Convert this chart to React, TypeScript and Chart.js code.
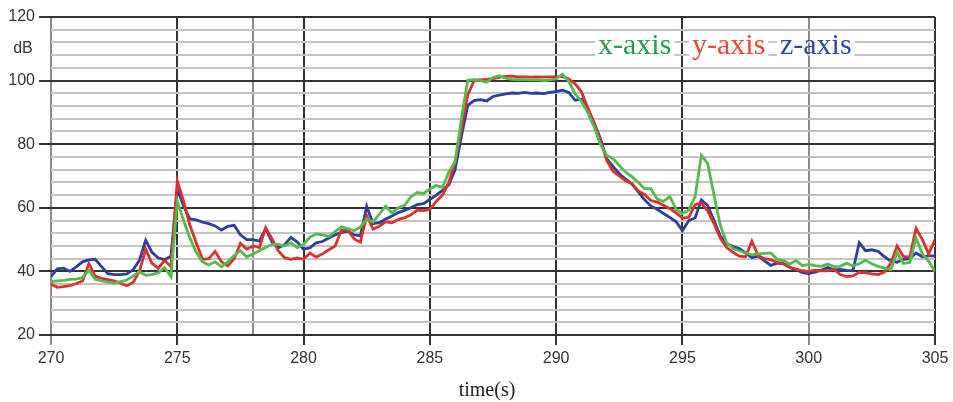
import { useEffect, useRef } from "react";
import { Chart, registerables } from "chart.js";

Chart.register(...registerables);

// Sampling grid of the recordings (seconds)
const START_S = 270;
const STEP_S = 0.25;

// Vibration level per axis, dB, one row per second (4 samples each)
const xAxisDb = [
  36.8, 37.0, 37.2, 37.5,
  37.6, 38.0, 40.4, 37.5,
  37.0, 36.6, 36.3, 36.8,
  37.3, 38.5, 39.9, 38.8,
  39.0, 39.6, 41.2, 38.3,
  62.0, 56.0, 50.5, 46.0,
  43.0, 42.0, 43.0, 41.5,
  43.0, 45.0, 46.5, 44.5,
  45.5, 46.5, 47.5, 48.5,
  48.5, 48.0, 49.0, 47.5,
  48.5, 50.8, 51.8, 51.5,
  51.0, 52.5, 54.0, 53.5,
  52.8, 54.0, 56.5, 55.5,
  58.0, 60.5, 58.4, 60.0,
  60.8, 63.5, 64.8, 64.5,
  65.9, 67.0, 66.4, 71.2,
  74.5, 88.0, 100.1, 100.3,
  100.0, 99.5, 101.0, 101.5,
  100.8, 100.4, 100.3, 100.3,
  100.2, 100.3, 100.0, 100.2,
  100.5, 102.0, 99.8, 95.8,
  93.5, 90.0, 85.5, 80.0,
  76.5, 75.5, 73.3, 71.2,
  69.8, 68.0, 66.0, 66.0,
  62.8, 62.0, 63.5, 59.5,
  58.2, 59.2, 63.5, 76.5,
  74.0, 64.0, 54.5, 49.0,
  47.2, 46.5, 45.8, 45.2,
  45.5, 45.7, 45.8, 43.8,
  43.4, 42.3, 43.4, 41.8,
  42.2, 41.8, 41.6, 42.3,
  41.5, 41.6, 42.6, 41.8,
  42.4, 43.5, 42.4, 41.6,
  41.0, 40.5, 46.0, 42.5,
  42.8, 50.5, 45.5, 43.2,
  40.0,
];

const yAxisDb = [
  36.0, 35.0, 35.2, 35.5,
  36.2, 37.0, 42.5, 38.5,
  37.8, 37.4, 37.0, 36.3,
  35.5, 36.5, 40.0, 47.0,
  42.5, 41.0, 43.5, 41.5,
  68.5, 62.0, 54.5, 49.0,
  43.8, 44.0, 46.3, 43.0,
  41.7, 44.0, 48.8, 47.0,
  48.0, 47.5, 53.7, 50.3,
  46.4, 44.3, 43.8, 44.2,
  43.8, 45.8, 44.5, 45.5,
  46.8, 48.0, 53.0, 53.0,
  50.2, 49.2, 57.5, 53.3,
  54.2, 55.6, 55.3, 56.3,
  56.9, 57.8, 59.3, 59.1,
  59.5, 62.0, 64.0, 68.0,
  74.5, 85.0, 95.5, 100.0,
  100.3, 100.4, 100.6, 101.0,
  101.3, 101.4, 101.2, 101.2,
  101.1, 101.2, 101.1, 101.2,
  101.2, 101.3, 100.5, 99.0,
  96.5, 91.5, 86.5, 81.3,
  75.0, 71.5, 70.0, 68.5,
  67.6, 65.3, 64.2, 62.3,
  61.8, 60.8, 59.8, 58.4,
  56.8, 57.0, 61.0, 61.5,
  59.0, 55.0, 50.5, 47.5,
  46.0, 44.8, 44.6, 49.5,
  45.0, 44.0, 43.7, 42.8,
  42.5, 41.3, 40.7, 40.2,
  40.0, 40.4, 40.2, 40.2,
  40.6, 39.0, 38.4, 38.6,
  39.7, 39.6, 39.2, 39.0,
  39.8, 42.5, 48.0, 44.7,
  44.5, 53.5, 50.0, 45.5,
  50.0,
];

const zAxisDb = [
  38.4, 40.8, 41.0, 40.0,
  41.4, 43.0, 43.6, 43.8,
  41.5, 39.3, 39.0, 39.0,
  39.2, 40.5, 43.5, 49.8,
  46.0, 44.2, 43.7, 44.8,
  66.0, 60.5, 56.5, 56.2,
  55.5, 55.0, 54.3, 53.0,
  54.2, 54.5, 51.5, 50.0,
  50.0, 49.5, 53.5, 49.3,
  47.4, 48.4, 50.7, 49.2,
  47.0, 47.4, 49.0, 49.4,
  50.5, 51.5, 52.3, 52.7,
  51.5, 51.2, 60.5, 55.0,
  55.3, 56.5, 57.4, 58.5,
  59.2, 60.0, 61.0, 61.3,
  62.6, 64.0, 65.5, 67.2,
  72.0, 82.5, 92.2, 93.7,
  94.0, 93.6, 95.0, 95.4,
  95.8, 96.1, 96.0, 96.3,
  96.0, 96.1, 95.9, 96.3,
  96.5, 97.0, 96.3, 93.8,
  94.2, 91.3, 86.8, 81.8,
  75.5, 73.0, 70.7, 69.0,
  67.5, 65.0, 62.5, 60.6,
  59.5, 58.2, 57.0, 55.6,
  52.8, 56.0, 56.8, 62.5,
  60.7, 56.0, 51.2, 48.8,
  47.8, 47.2, 45.8, 44.3,
  44.8, 43.3, 41.9, 42.6,
  42.4, 41.2, 40.5, 39.6,
  39.3, 39.8, 40.4, 41.2,
  40.5, 40.6, 40.3, 40.2,
  49.0, 46.5, 46.8, 46.3,
  44.6, 43.3, 42.9, 43.8,
  44.0, 45.8, 44.6, 44.9,
  44.9,
];

const seriesNames = ["x-axis", "y-axis", "z-axis"];
const seriesValues = [xAxisDb, yAxisDb, zAxisDb];
const lineColors = ["#52bc4c", "#e0302c", "#2a3f9e"];
const labelColors = ["#1f9e55", "#ec4a2e", "#2c4aa6"];

// Time axis
const X_MIN = 270;
const X_MAX = 305;
const xTickValues = [270, 275, 278, 280, 285, 290, 295, 300, 305];
const lightXLines = [270, 278, 300];
const unlabeledX = [278];
const X_TITLE = "time(s)";

// Level axis
const Y_MIN = 20;
const Y_MAX = 120;
const Y_STEP = 4;
const Y_MAJOR = 20;
const Y_UNIT = "dB";
const Y_UNIT_LEVEL = 110;

const SANS = "'Liberation Sans', Arial, sans-serif";
const SERIF = "'Liberation Serif', 'Times New Roman', serif";

const legendLeft = [598, 692, 780];
const LEGEND_BASELINE = 54;

const textPlugin = {
  id: "chartTexts",
  beforeDatasetsDraw(chart: any) {
    const ctx = chart.ctx as CanvasRenderingContext2D;
    const xs = chart.scales.x;
    ctx.save();
    ctx.font = `30px ${SERIF}`;
    ctx.fillStyle = "#ffffff";
    // white patches under the legend words, leaving vertical grid lines visible
    seriesNames.forEach((name, i) => {
      const w = ctx.measureText(name).width;
      let x0 = legendLeft[i] - 3;
      const x1 = legendLeft[i] + w + 3;
      xTickValues.forEach((v) => {
        const px = xs.getPixelForValue(v);
        if (px > x0 && px < x1) {
          ctx.fillRect(x0, 35, px - 1.5 - x0, 27);
          x0 = px + 1.5;
        }
      });
      ctx.fillRect(x0, 35, x1 - x0, 27);
    });
    ctx.restore();
  },
  afterDraw(chart: any) {
    const ctx = chart.ctx as CanvasRenderingContext2D;
    const ys = chart.scales.y;
    const area = chart.chartArea;
    ctx.save();
    // legend words
    ctx.font = `30px ${SERIF}`;
    ctx.textAlign = "left";
    ctx.textBaseline = "alphabetic";
    seriesNames.forEach((name, i) => {
      ctx.fillStyle = labelColors[i];
      ctx.fillText(name, legendLeft[i], LEGEND_BASELINE);
    });
    // unit label on the level axis
    ctx.font = `16px ${SANS}`;
    ctx.fillStyle = "#333333";
    ctx.textAlign = "center";
    ctx.textBaseline = "middle";
    ctx.fillText(Y_UNIT, 23, ys.getPixelForValue(Y_UNIT_LEVEL));
    // time axis title
    ctx.font = `20px ${SERIF}`;
    ctx.fillStyle = "#222222";
    ctx.fillText(X_TITLE, (area.left + area.right) / 2 - 6, 391);
    ctx.restore();
  },
};

export default function App() {
  const canvasRef = useRef<HTMLCanvasElement>(null);

  useEffect(() => {
    document.body.style.margin = "0";
    const canvas = canvasRef.current;
    if (!canvas) return;

    const datasets = seriesNames.map((name, s) => ({
      label: name,
      data: seriesValues[s].map((v, i) => ({ x: START_S + i * STEP_S, y: v })),
      borderColor: lineColors[s],
      backgroundColor: lineColors[s],
      borderWidth: 2.8,
      pointRadius: 0,
      tension: 0,
      fill: false,
    }));

    const chart = new Chart(canvas, {
      type: "line",
      data: { datasets },
      plugins: [textPlugin],
      options: {
        animation: false,
        responsive: false,
        events: [],
        layout: { padding: { left: 0, right: 18, top: 17, bottom: 0 } },
        plugins: {
          legend: { display: false },
          tooltip: { enabled: false },
          title: { display: false },
        },
        scales: {
          x: {
            type: "linear",
            min: X_MIN,
            max: X_MAX,
            afterBuildTicks: (scale: any) => {
              scale.ticks = xTickValues.map((v) => ({ value: v }));
            },
            afterFit: (scale: any) => {
              scale.height = 67;
            },
            border: { display: false },
            grid: {
              lineWidth: 2,
              tickLength: 10,
              color: (c: any) =>
                lightXLines.includes(c.tick?.value) ? "#8c8c8c" : "#333333",
              tickColor: (c: any) =>
                unlabeledX.includes(c.tick?.value)
                  ? "rgba(0,0,0,0)"
                  : lightXLines.includes(c.tick?.value)
                  ? "#8c8c8c"
                  : "#333333",
            },
            ticks: {
              autoSkip: false,
              maxRotation: 0,
              padding: 4,
              color: "#333333",
              font: { family: SANS, size: 16 },
              callback: (v: any) => (unlabeledX.includes(Number(v)) ? "" : String(v)),
            },
          },
          y: {
            type: "linear",
            min: Y_MIN,
            max: Y_MAX,
            afterFit: (scale: any) => {
              scale.width = 51;
            },
            border: { display: false },
            grid: {
              lineWidth: 2,
              tickLength: 12,
              color: (c: any) =>
                c.tick && c.tick.value % Y_MAJOR === 0 ? "#333333" : "#c4c4c4",
              tickColor: (c: any) =>
                c.tick && c.tick.value % Y_MAJOR === 0 ? "#333333" : "rgba(0,0,0,0)",
            },
            ticks: {
              stepSize: Y_STEP,
              autoSkip: false,
              padding: 4,
              color: "#333333",
              font: { family: SANS, size: 16 },
              callback: (v: any) => (Number(v) % Y_MAJOR === 0 ? String(v) : ""),
            },
          },
        },
      },
    });

    return () => chart.destroy();
  }, []);

  return (
    <div style={{ width: 953, height: 402 }}>
      <canvas ref={canvasRef} width={953} height={402} style={{ display: "block" }} />
    </div>
  );
}
